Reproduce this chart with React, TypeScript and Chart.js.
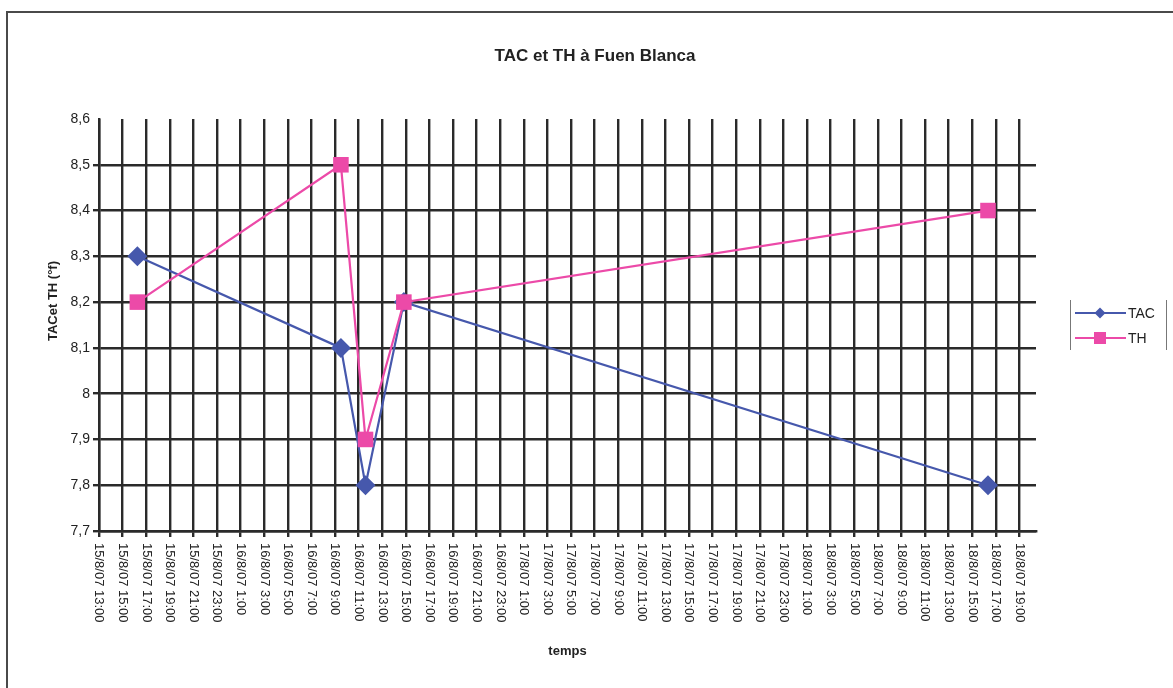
import { useEffect, useRef } from "react";
import { Chart, registerables } from "chart.js";

Chart.register(...registerables);

// ---- data ----
const sampleTimes = ["15/8/07 16:15", "16/8/07 9:30", "16/8/07 11:35", "16/8/07 14:50", "18/8/07 16:20"];
const tacValues = [8.3, 8.1, 7.8, 8.2, 7.8];
const thValues = [8.2, 8.5, 7.9, 8.2, 8.4];
const seriesNames = ["TAC", "TH"];
const yTickValues = [7.7, 7.8, 7.9, 8.0, 8.1, 8.2, 8.3, 8.4, 8.5, 8.6];
const xFirstTickHour = 13; // hours after 15/8/07 0:00
const xLastTickHour = 91;
const xTickStepHours = 2;
const xAxisMaxHour = 92.4;
const titleText = "TAC et TH à Fuen Blanca";
const yTitleText = "TACet TH (°f)";
const xTitleText = "temps";

const FONT = "'Liberation Sans', Arial, sans-serif";
const TAC_COLOR = "#4658ac";
const TH_COLOR = "#ec4aa8";
const GRID_COLOR = "#2a2a2a";
const TEXT_COLOR = "#222";

function toHours(s: string): number {
  const [d, t] = s.split(" ");
  const day = parseInt(d.split("/")[0], 10);
  const [hh, mm] = t.split(":").map((v) => parseInt(v, 10));
  return (day - 15) * 24 + hh + mm / 60;
}

function formatXTick(v: number): string {
  const dayOffset = Math.floor(v / 24);
  const h = Math.round(v - dayOffset * 24);
  return `${15 + dayOffset}/8/07 ${h}:00`;
}

function formatYTick(v: number): string {
  return String(Number(v.toFixed(1))).replace(".", ",");
}

const xTickValues: number[] = [];
for (let h = xFirstTickHour; h <= xLastTickHour; h += xTickStepHours) xTickValues.push(h);

const decorPlugin = {
  id: "decor",
  beforeDraw(chart: any) {
    const ctx = chart.ctx;
    ctx.save();
    ctx.strokeStyle = "#4a4a4a";
    ctx.lineWidth = 2;
    ctx.beginPath();
    ctx.moveTo(1173, 12);
    ctx.lineTo(7, 12);
    ctx.lineTo(7, 688);
    ctx.stroke();
    ctx.restore();
  },
  afterDraw(chart: any) {
    const ctx = chart.ctx;
    const xs = chart.scales.x;
    const area = chart.chartArea;
    ctx.save();
    ctx.fillStyle = TEXT_COLOR;
    // title
    ctx.font = `bold 17px ${FONT}`;
    ctx.textAlign = "center";
    ctx.textBaseline = "middle";
    ctx.fillText(titleText, 595, 56);
    // y title
    ctx.save();
    ctx.translate(53, 301);
    ctx.rotate(-Math.PI / 2);
    ctx.font = `bold 13px ${FONT}`;
    ctx.fillText(yTitleText, 0, 0);
    ctx.restore();
    // x title
    ctx.font = `bold 13px ${FONT}`;
    ctx.fillText(xTitleText, (area.left + area.right) / 2, 651);
    // x tick labels, rotated clockwise
    ctx.font = `13px ${FONT}`;
    ctx.textAlign = "left";
    for (const t of xs.ticks) {
      const x = xs.getPixelForValue(t.value);
      ctx.save();
      ctx.translate(x, area.bottom + 12);
      ctx.rotate(Math.PI / 2);
      ctx.fillText(formatXTick(t.value), 0, 0);
      ctx.restore();
    }
    // legend
    ctx.strokeStyle = "#777";
    ctx.lineWidth = 1;
    ctx.beginPath();
    ctx.moveTo(1070.5, 300);
    ctx.lineTo(1070.5, 350);
    ctx.moveTo(1166.5, 300);
    ctx.lineTo(1166.5, 350);
    ctx.stroke();
    const rows = [
      { name: seriesNames[0], color: TAC_COLOR, y: 313, shape: "diamond" },
      { name: seriesNames[1], color: TH_COLOR, y: 338, shape: "square" },
    ];
    for (const r of rows) {
      ctx.strokeStyle = r.color;
      ctx.lineWidth = 2;
      ctx.beginPath();
      ctx.moveTo(1075, r.y);
      ctx.lineTo(1126, r.y);
      ctx.stroke();
      ctx.fillStyle = r.color;
      ctx.beginPath();
      if (r.shape === "diamond") {
        ctx.moveTo(1100, r.y - 5.5);
        ctx.lineTo(1105.5, r.y);
        ctx.lineTo(1100, r.y + 5.5);
        ctx.lineTo(1094.5, r.y);
        ctx.closePath();
      } else {
        ctx.rect(1094, r.y - 6, 12, 12);
      }
      ctx.fill();
      ctx.fillStyle = TEXT_COLOR;
      ctx.font = `14px ${FONT}`;
      ctx.textAlign = "left";
      ctx.fillText(r.name, 1128, r.y + 1);
    }
    ctx.restore();
  },
};

export default function App() {
  const canvasRef = useRef<HTMLCanvasElement | null>(null);

  useEffect(() => {
    const canvas = canvasRef.current;
    if (!canvas) return;
    const xs = sampleTimes.map(toHours);
    const chart = new Chart(canvas, {
      type: "line",
      data: {
        datasets: [
          {
            label: seriesNames[0],
            data: xs.map((x, i) => ({ x, y: tacValues[i] })),
            borderColor: TAC_COLOR,
            backgroundColor: TAC_COLOR,
            borderWidth: 2.2,
            pointStyle: "rectRot",
            pointRadius: 10,
            pointBorderWidth: 0,
            tension: 0,
            order: 1,
          },
          {
            label: seriesNames[1],
            data: xs.map((x, i) => ({ x, y: thValues[i] })),
            borderColor: TH_COLOR,
            backgroundColor: TH_COLOR,
            borderWidth: 2.2,
            pointStyle: "rect",
            pointRadius: 11,
            pointBorderWidth: 0,
            tension: 0,
            order: 0,
          },
        ],
      },
      options: {
        animation: false,
        responsive: false,
        devicePixelRatio: 1,
        layout: { padding: { left: 0, top: 119, right: 137, bottom: 0 } },
        plugins: { legend: { display: false }, title: { display: false }, tooltip: { enabled: false } },
        scales: {
          x: {
            type: "linear",
            min: xFirstTickHour,
            max: xAxisMaxHour,
            afterBuildTicks: (scale: any) => {
              scale.ticks = xTickValues.map((v) => ({ value: v }));
            },
            afterFit: (scale: any) => {
              scale.height = 157;
            },
            ticks: { display: false },
            grid: { color: GRID_COLOR, lineWidth: 2.4, tickLength: 6, drawTicks: true },
            border: { display: true, color: GRID_COLOR, width: 2.4 },
          },
          y: {
            type: "linear",
            min: 7.7,
            max: 8.6,
            afterBuildTicks: (scale: any) => {
              scale.ticks = yTickValues.map((v) => ({ value: v }));
            },
            afterFit: (scale: any) => {
              scale.width = 99;
            },
            ticks: {
              callback: (v: any) => formatYTick(Number(v)),
              color: TEXT_COLOR,
              font: { family: FONT, size: 14 },
              padding: 3,
            },
            grid: {
              color: (c: any) => (c.tick && Math.abs(c.tick.value - 8.6) < 1e-6 ? "rgba(0,0,0,0)" : GRID_COLOR),
              lineWidth: 2.4,
              tickLength: 6,
              drawTicks: true,
            },
            border: { display: true, color: GRID_COLOR, width: 2.4 },
          },
        },
      },
      plugins: [decorPlugin],
    });
    return () => chart.destroy();
  }, []);

  return (
    <div style={{ position: "absolute", left: 0, top: 0, width: 1173, height: 688, background: "#fff" }}>
      <canvas ref={canvasRef} width={1173} height={688} style={{ display: "block" }} />
    </div>
  );
}
